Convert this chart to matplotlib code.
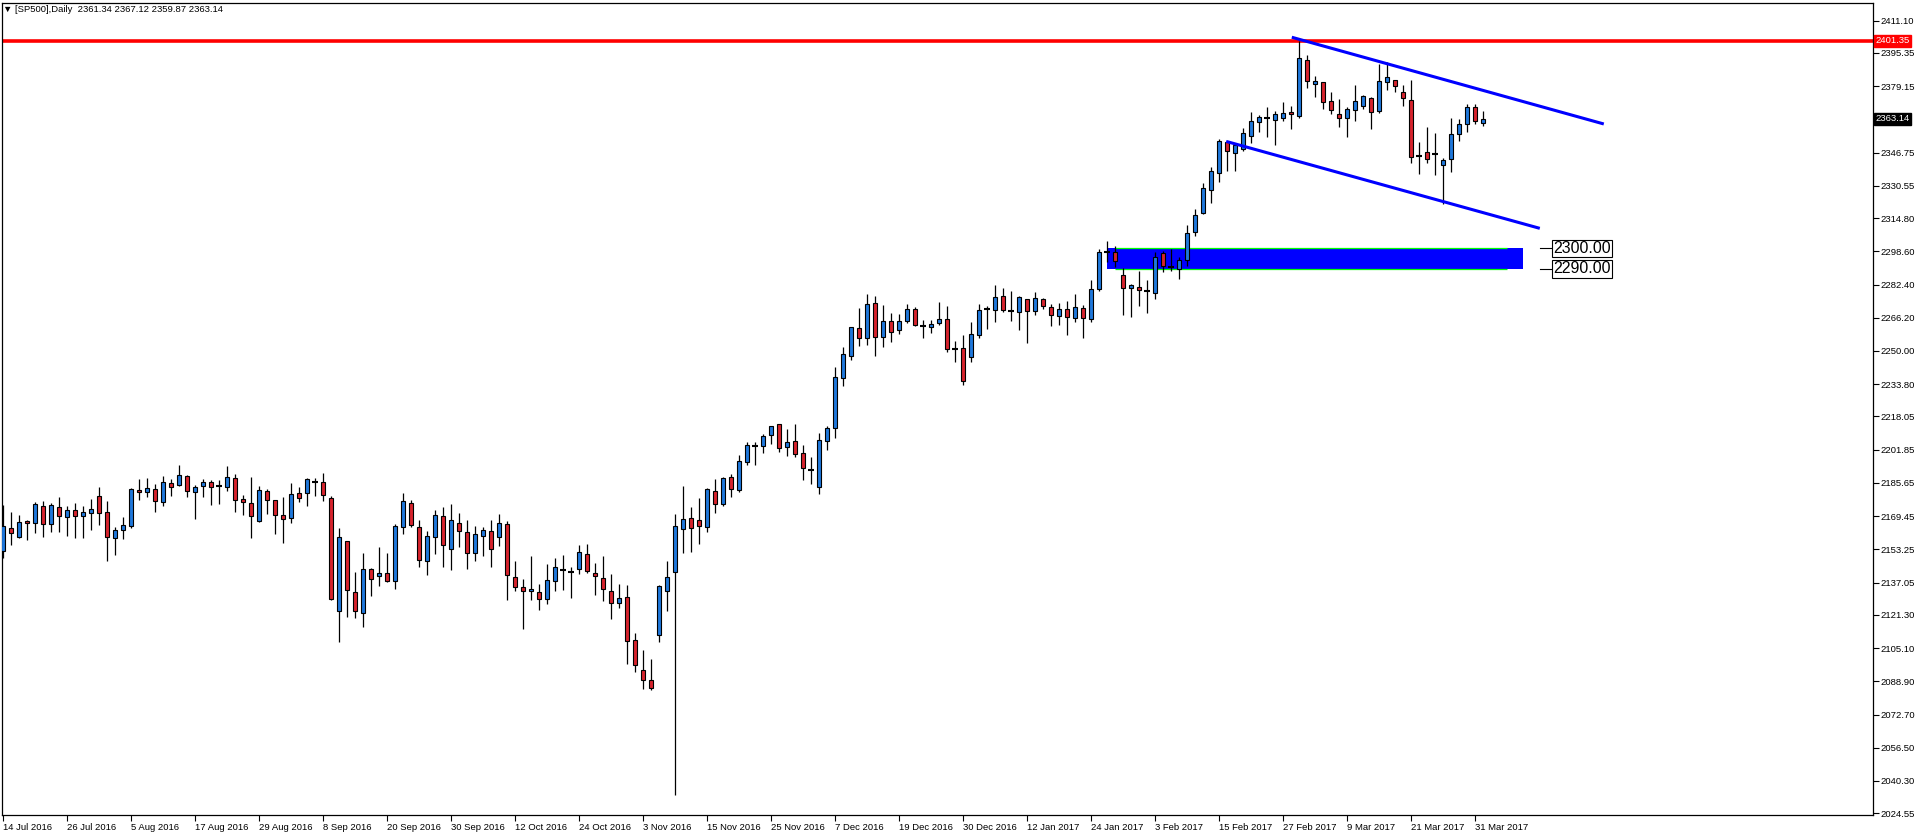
import matplotlib
matplotlib.use('Agg')
import matplotlib.pyplot as plt

plt.rcParams['font.family'] = ['Liberation Sans', 'DejaVu Sans']

# daily candles, bar 0 = 14 Jul 2016, last bar = 3 Apr 2017
opens = [2152.3, 2163.5, 2159.5, 2166.9, 2166.0, 2174.3, 2165.5, 2173.8, 2168.9, 2172.3,
         2169.4, 2170.8, 2179.1, 2171.3, 2158.6, 2162.5, 2164.5, 2182.1, 2181.1, 2182.5,
         2176.2, 2185.5, 2184.5, 2188.9, 2181.1, 2184.0, 2186.0, 2184.3, 2183.5, 2187.9,
         2177.7, 2175.7, 2166.9, 2181.6, 2177.2, 2169.9, 2168.4, 2180.6, 2180.6, 2186.1,
         2186.0, 2178.1, 2123.0, 2157.2, 2132.3, 2122.1, 2143.5, 2140.1, 2141.6, 2137.7,
         2164.0, 2175.7, 2164.0, 2147.4, 2159.1, 2169.4, 2153.3, 2166.0, 2161.6, 2151.3,
         2159.6, 2162.1, 2159.1, 2165.5, 2139.6, 2134.7, 2132.8, 2132.3, 2128.9, 2137.7,
         2143.4, 2142.1, 2143.5, 2150.8, 2141.6, 2139.1, 2132.8, 2126.9, 2129.9, 2108.9,
         2094.3, 2089.4, 2111.3, 2132.8, 2142.1, 2163.0, 2168.4, 2167.4, 2164.0, 2181.5,
         2175.2, 2188.4, 2182.0, 2195.7, 2203.5, 2203.5, 2208.9, 2214.2, 2203.0, 2205.9,
         2200.1, 2191.8, 2183.5, 2205.9, 2212.3, 2236.7, 2247.4, 2261.1, 2256.2, 2273.3,
         2256.7, 2264.5, 2260.1, 2264.5, 2270.3, 2262.4, 2261.5, 2263.5, 2265.5, 2250.8,
         2251.3, 2246.9, 2257.6, 2270.5, 2269.8, 2276.7, 2269.7, 2268.9, 2275.2, 2269.4,
         2275.2, 2271.3, 2266.9, 2270.3, 2265.9, 2270.8, 2265.5, 2280.1, 2298.3, 2298.1,
         2286.9, 2280.6, 2281.1, 2279.1, 2278.1, 2297.6, 2290.8, 2289.8, 2294.2, 2307.9,
         2317.1, 2328.4, 2336.6, 2351.8, 2346.4, 2348.4, 2354.7, 2361.5, 2363.8, 2362.7,
         2363.5, 2366.4, 2364.8, 2391.8, 2380.1, 2381.0, 2371.8, 2365.4, 2363.5, 2367.4,
         2369.3, 2373.2, 2366.9, 2381.0, 2382.0, 2376.2, 2372.2, 2344.9, 2346.9, 2345.9,
         2340.5, 2343.5, 2355.7, 2360.6, 2368.8, 2361.34]
highs = [2174.9, 2171.5, 2170.0, 2167.4, 2176.2, 2176.9, 2175.9, 2178.8, 2174.4, 2175.9,
         2174.4, 2177.8, 2183.7, 2176.9, 2164.0, 2168.9, 2183.0, 2187.6, 2188.1, 2185.1,
         2189.1, 2187.6, 2194.4, 2189.4, 2184.5, 2187.4, 2187.1, 2186.9, 2193.9, 2190.0,
         2180.0, 2188.6, 2184.0, 2182.7, 2177.4, 2178.8, 2185.6, 2183.7, 2188.1, 2188.1,
         2190.5, 2179.1, 2163.7, 2157.5, 2142.2, 2151.5, 2144.0, 2154.4, 2151.5, 2165.5,
         2180.8, 2177.2, 2167.4, 2162.1, 2172.3, 2173.8, 2175.4, 2170.8, 2167.4, 2164.5,
         2164.0, 2167.4, 2170.4, 2166.9, 2147.4, 2138.6, 2149.9, 2136.2, 2146.0, 2148.9,
         2150.4, 2144.5, 2155.2, 2155.7, 2146.5, 2149.9, 2141.1, 2136.2, 2135.7, 2112.3,
         2104.0, 2099.6, 2135.7, 2147.4, 2170.4, 2184.1, 2173.9, 2178.3, 2183.0, 2187.6,
         2188.5, 2190.0, 2199.3, 2205.6, 2205.6, 2209.5, 2213.5, 2214.4, 2212.0, 2214.4,
         2204.2, 2198.3, 2210.0, 2213.3, 2242.0, 2252.0, 2261.8, 2271.0, 2277.8, 2276.8,
         2272.4, 2268.5, 2268.1, 2272.9, 2271.3, 2265.0, 2265.0, 2273.9, 2271.9, 2254.7,
         2257.6, 2264.0, 2272.9, 2272.0, 2282.2, 2280.6, 2279.3, 2276.7, 2275.4, 2278.6,
         2275.9, 2272.8, 2273.3, 2274.2, 2277.6, 2272.3, 2284.5, 2299.6, 2303.5, 2301.1,
         2290.3, 2282.5, 2288.9, 2284.5, 2298.1, 2298.6, 2299.6, 2295.7, 2311.3, 2319.3,
         2331.9, 2339.7, 2353.4, 2352.4, 2350.5, 2358.8, 2366.6, 2364.9, 2368.8, 2366.9,
         2371.4, 2369.3, 2401.35, 2394.4, 2384.0, 2381.2, 2376.2, 2372.7, 2368.8, 2379.6,
         2374.7, 2373.7, 2389.8, 2390.8, 2382.2, 2379.6, 2382.0, 2351.8, 2359.1, 2356.2,
         2344.0, 2363.5, 2363.2, 2370.3, 2370.3, 2367.12]
lows = [2149.2, 2155.6, 2159.0, 2158.0, 2161.4, 2159.5, 2161.9, 2161.9, 2159.9, 2159.0,
        2159.0, 2162.9, 2165.3, 2147.7, 2150.7, 2158.5, 2163.8, 2177.5, 2178.6, 2171.7,
        2174.3, 2179.1, 2184.0, 2178.6, 2168.2, 2178.6, 2174.7, 2175.5, 2181.6, 2171.3,
        2169.9, 2159.0, 2166.4, 2170.3, 2160.6, 2156.2, 2166.0, 2176.5, 2174.6, 2179.1,
        2177.0, 2128.4, 2108.2, 2120.1, 2119.6, 2115.2, 2130.7, 2135.6, 2137.2, 2134.1,
        2160.6, 2164.0, 2144.8, 2140.9, 2151.2, 2144.8, 2143.4, 2154.6, 2143.9, 2147.8,
        2150.2, 2144.8, 2155.1, 2128.7, 2132.8, 2114.6, 2128.7, 2123.9, 2126.8, 2132.8,
        2133.3, 2129.7, 2141.1, 2141.6, 2131.2, 2128.2, 2119.1, 2124.5, 2097.5, 2093.6,
        2085.3, 2084.5, 2108.2, 2123.4, 2033.3, 2151.6, 2152.1, 2156.0, 2161.9, 2171.2,
        2174.6, 2179.0, 2181.1, 2194.6, 2194.6, 2200.1, 2204.8, 2200.9, 2198.9, 2198.5,
        2187.2, 2185.3, 2180.1, 2201.5, 2207.4, 2233.1, 2245.5, 2252.3, 2252.8, 2247.7,
        2251.8, 2254.2, 2258.1, 2263.5, 2262.3, 2256.2, 2258.6, 2262.5, 2249.4, 2244.5,
        2233.3, 2244.5, 2256.2, 2260.6, 2264.0, 2268.9, 2264.8, 2260.4, 2254.1, 2267.7,
        2270.3, 2262.4, 2262.8, 2258.0, 2264.3, 2256.5, 2264.3, 2279.1, 2293.4, 2290.8,
        2267.7, 2266.8, 2272.1, 2268.7, 2275.2, 2288.4, 2288.9, 2285.3, 2291.3, 2306.2,
        2316.6, 2322.0, 2332.6, 2337.9, 2337.9, 2347.7, 2351.3, 2356.6, 2354.5, 2350.6,
        2362.0, 2358.4, 2363.8, 2378.4, 2374.0, 2367.9, 2365.4, 2359.4, 2354.2, 2362.3,
        2367.9, 2358.1, 2365.9, 2377.1, 2376.2, 2369.3, 2341.5, 2336.2, 2341.5, 2335.7,
        2321.5, 2337.1, 2352.3, 2357.0, 2360.6, 2359.87]
closes = [2164.5, 2161.1, 2166.4, 2166.0, 2175.2, 2165.5, 2174.7, 2169.4, 2172.3, 2169.4,
          2171.3, 2172.8, 2170.8, 2159.1, 2162.5, 2165.0, 2182.5, 2181.1, 2183.0, 2176.7,
          2186.0, 2183.5, 2189.4, 2181.6, 2183.5, 2186.0, 2183.5, 2184.3, 2188.4, 2177.2,
          2176.2, 2169.4, 2182.1, 2177.2, 2169.9, 2167.9, 2180.1, 2178.2, 2187.4, 2186.1,
          2179.6, 2128.9, 2159.1, 2133.3, 2123.0, 2143.5, 2138.6, 2141.6, 2137.7, 2164.5,
          2176.7, 2165.0, 2147.9, 2159.6, 2169.9, 2155.2, 2167.4, 2162.1, 2151.3, 2160.6,
          2162.6, 2153.3, 2166.0, 2140.6, 2134.7, 2132.8, 2133.8, 2128.9, 2138.2, 2144.5,
          2143.4, 2142.1, 2151.8, 2142.6, 2140.1, 2133.8, 2126.9, 2129.4, 2108.4, 2096.7,
          2089.4, 2085.5, 2135.2, 2139.6, 2164.5, 2167.9, 2163.5, 2164.8, 2182.5, 2175.2,
          2187.9, 2182.5, 2196.2, 2204.0, 2203.5, 2208.4, 2213.3, 2202.5, 2205.5, 2199.6,
          2192.8, 2191.8, 2206.4, 2212.3, 2237.2, 2248.4, 2261.5, 2256.2, 2272.8, 2256.7,
          2264.5, 2259.1, 2264.5, 2270.3, 2262.5, 2262.4, 2263.0, 2265.5, 2250.8, 2250.8,
          2235.2, 2258.1, 2269.8, 2270.5, 2276.2, 2269.8, 2269.7, 2276.2, 2269.4, 2275.7,
          2271.8, 2267.4, 2270.3, 2266.4, 2271.3, 2265.9, 2280.1, 2298.1, 2298.3, 2293.7,
          2280.6, 2282.0, 2279.6, 2279.1, 2295.7, 2291.3, 2290.8, 2294.2, 2307.4, 2316.3,
          2329.3, 2337.8, 2352.4, 2347.4, 2350.3, 2356.2, 2362.2, 2364.0, 2363.8, 2365.4,
          2365.9, 2365.4, 2392.7, 2381.5, 2381.5, 2371.3, 2367.4, 2363.5, 2367.9, 2371.8,
          2374.2, 2366.4, 2381.5, 2383.5, 2379.1, 2373.2, 2344.4, 2344.9, 2343.5, 2345.9,
          2343.0, 2355.7, 2360.6, 2368.8, 2362.0, 2363.14]

date_labels = ['14 Jul 2016', '26 Jul 2016', '5 Aug 2016', '17 Aug 2016', '29 Aug 2016',
               '8 Sep 2016', '20 Sep 2016', '30 Sep 2016', '12 Oct 2016', '24 Oct 2016',
               '3 Nov 2016', '15 Nov 2016', '25 Nov 2016', '7 Dec 2016', '19 Dec 2016',
               '30 Dec 2016', '12 Jan 2017', '24 Jan 2017', '3 Feb 2017', '15 Feb 2017',
               '27 Feb 2017', '9 Mar 2017', '21 Mar 2017', '31 Mar 2017']
price_ticks = [2411.10, 2395.35, 2379.15, 2346.75, 2330.55, 2314.80, 2298.60, 2282.40,
               2266.20, 2250.00, 2233.80, 2218.05, 2201.85, 2185.65, 2169.45, 2153.25,
               2137.05, 2121.30, 2105.10, 2088.90, 2072.70, 2056.50, 2040.30, 2024.55]

resistance = 2401.35
zone = (2290.00, 2300.00)
zone_bars = (138, 190)
upper_channel = ([161.1, 200.1], [2403.0, 2360.7])
lower_channel = ([152.9, 192.1], [2352.2, 2309.8])

W, H = 1916, 836
fig = plt.figure(figsize=(W / 100, H / 100), dpi=100)
fig.patch.set_facecolor('white')
ax = fig.add_axes([2 / W, 1 - 815 / H, 1871 / W, 812 / H])

bull, bear = '#1F78DC', '#D7232D'
n = len(opens)
xs = list(range(n))

# wicks
ax.vlines(xs, lows, highs, color='black', lw=0.9, zorder=3)

# bodies
body_x, body_b, body_h, body_c = [], [], [], []
doji_x, doji_y = [], []
for i, (o, c) in enumerate(zip(opens, closes)):
    if o == c:
        doji_x.append(i)
        doji_y.append(o)
    else:
        body_x.append(i)
        body_b.append(min(o, c))
        body_h.append(abs(c - o))
        body_c.append(bull if c > o else bear)
ax.bar(body_x, body_h, bottom=body_b, width=0.56, color=body_c,
       edgecolor='black', linewidth=0.8, zorder=4)
ax.hlines(doji_y, [x - 0.32 for x in doji_x], [x + 0.32 for x in doji_x],
          color='black', lw=1.5, zorder=4)

# support zone
ax.fill_between(zone_bars, zone[0], zone[1], color='#0000FF', lw=0, zorder=1)
ax.hlines(zone, zone_bars[0] + 1, zone_bars[1] - 2, color='#00FF00', lw=0.9, zorder=2)
for lvl in zone:
    ax.plot([192.1, 193.5], [lvl, lvl], color='black', lw=0.8, zorder=5)
    ax.text(193.75, lvl, '%.2f' % lvl, fontsize=11.5, va='center', ha='left', zorder=6,
            bbox=dict(boxstyle='square,pad=0.08', fc='white', ec='black', lw=0.8))

# resistance and channel
ax.axhline(resistance, color='#FF0000', lw=2.6, zorder=2)
ax.plot(*upper_channel, color='#0000FF', lw=2.2, zorder=5, solid_capstyle='butt')
ax.plot(*lower_channel, color='#0000FF', lw=2.2, zorder=5, solid_capstyle='butt')

ax.set_xlim(-0.125, 233.75)
ax.set_ylim(2023.7, 2419.7)

for s in ax.spines.values():
    s.set_color('black')
    s.set_linewidth(0.9)

ax.yaxis.tick_right()
ax.set_yticks(price_ticks)
ax.set_yticklabels(['%.2f' % p for p in price_ticks])
ax.tick_params(axis='y', direction='out', length=4, width=0.8, labelsize=6.8, pad=1.5)

ax.set_xticks(list(range(0, 8 * len(date_labels), 8)))
ax.set_xticklabels(date_labels, ha='left')
ax.tick_params(axis='x', direction='out', length=4, width=0.8, labelsize=6.8, pad=1.5)

# price markers on the axis
ax.text(1.0015, resistance, '%.2f' % resistance, transform=ax.get_yaxis_transform(),
        fontsize=6.8, color='white', va='center', ha='left',
        bbox=dict(boxstyle='square,pad=0.15', fc='#FF0000', ec='#FF0000'), clip_on=False)
ax.text(1.0015, closes[-1], '%.2f' % closes[-1], transform=ax.get_yaxis_transform(),
        fontsize=6.8, color='white', va='center', ha='left',
        bbox=dict(boxstyle='square,pad=0.15', fc='black', ec='black'), clip_on=False)

header = '\u25bc [SP500],Daily  %.2f %.2f %.2f %.2f' % (opens[-1], highs[-1], lows[-1], closes[-1])
fig.text(3 / W, 1 - 10 / H, header, fontsize=6.8, va='center', ha='left')

fig.savefig('out.png', dpi=100)
